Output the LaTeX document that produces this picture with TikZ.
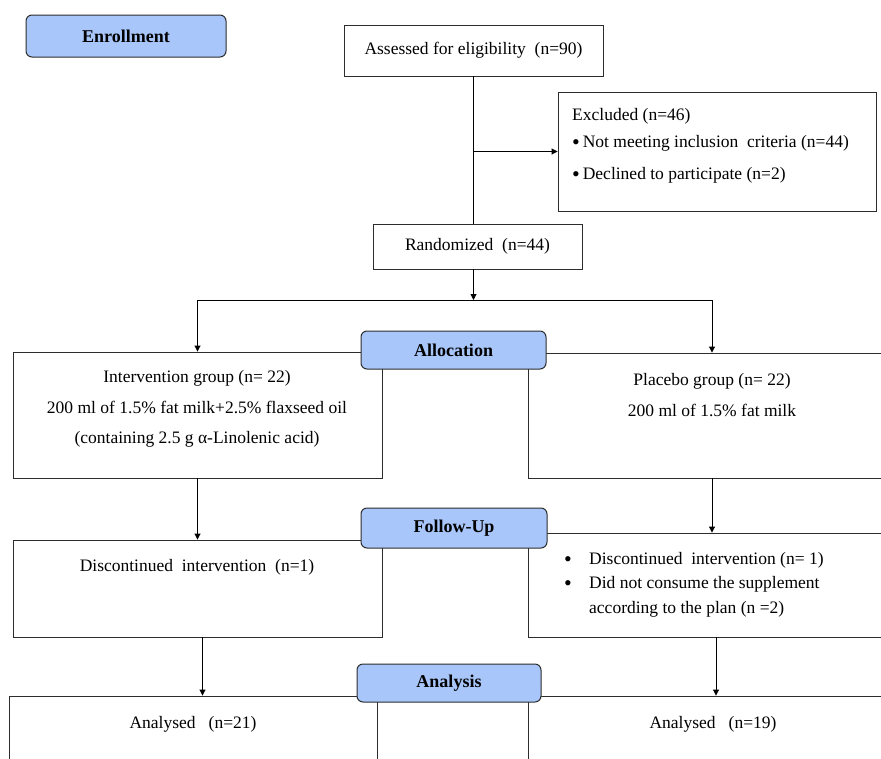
\documentclass[tikz,border=0pt]{standalone}
\usepackage{fontspec}
\setmainfont{Liberation Serif}
\usetikzlibrary{arrows.meta}
\definecolor{labelblue}{RGB}{168,198,250}
\definecolor{edgegrey}{RGB}{45,45,45}
\newcommand{\bigbul}{{\fontsize{22}{22}\selectfont\raisebox{-2.8pt}{\textbullet}}}
\begin{document}
\begin{tikzpicture}[x=1pt,y=-1pt,
  box/.style={draw=edgegrey, line width=0.9pt, fill=white, inner sep=0pt},
  stage/.style={draw=edgegrey, line width=1pt, fill=labelblue, rounded corners=6pt, inner sep=0pt, font=\fontsize{18}{21}\selectfont\bfseries},
  txt/.style={inner sep=0pt, font=\fontsize{17.5}{21}\selectfont},
  conn/.style={line width=0.9pt, draw=black},
  arr/.style={conn, -{Triangle[length=6pt,width=6pt]}}]
\path[use as bounding box, clip] (0,0) rectangle (881,758);
\fill[white] (0,0) rectangle (881,758);

% boxes
\node[box, minimum width=259pt, minimum height=51pt, txt] (assess) at (473.5,50.5) {Assessed for eligibility\ \ (n=90)};
\node[box, minimum width=318pt, minimum height=119pt] (excl) at (717,151.5) {};
\node[box, minimum width=209pt, minimum height=45pt, txt] (rand) at (477.5,246.5) {Randomized\ \ (n=44)};
\node[box, minimum width=369pt, minimum height=126pt] (interv) at (197.5,415) {};
\node[box, minimum width=368pt, minimum height=125pt] (placebo) at (712,415.5) {};
\node[box, minimum width=369pt, minimum height=97pt] (disc) at (197.5,588.5) {};
\node[box, minimum width=368pt, minimum height=104pt] (pfollow) at (712,585) {};
\node[box, minimum width=368pt, minimum height=104pt] (anL) at (193,748) {};
\node[box, minimum width=368pt, minimum height=104pt] (anR) at (712,748) {};

% texts
\node[txt, anchor=base west] (exT1) at (572,120) {Excluded (n=46)};
\node[txt, anchor=base west] (exT2) at (572,147) {\bigbul\,Not meeting inclusion\ \ criteria (n=44)};
\node[txt, anchor=base west] (exT3) at (572,179) {\bigbul\,Declined to participate (n=2)};
\node[txt, anchor=base] (ivT1) at (197,382) {Intervention group (n= 22)};
\node[txt, anchor=base] (ivT2) at (197,413) {200 ml of 1.5\% fat milk+2.5\% flaxseed oil};
\node[txt, anchor=base] (ivT3) at (197,443) {(containing 2.5 g α-Linolenic acid)};
\node[txt, anchor=base] (plT1) at (712,385) {Placebo group (n= 22)};
\node[txt, anchor=base] (plT2) at (712,416) {200 ml of 1.5\% fat milk};
\node[txt, anchor=base] (dcT) at (197,571) {Discontinued\ \ intervention\ \ (n=1)};
\node[txt, anchor=base] (pfB1) at (568,564) {\bigbul};
\node[txt, anchor=base] (pfB2) at (568,588) {\bigbul};
\node[txt, anchor=base west] (pfT1) at (589,564) {Discontinued\ \ intervention (n= 1)};
\node[txt, anchor=base west] (pfT2) at (589,588) {Did not consume the supplement};
\node[txt, anchor=base west] (pfT3) at (589,613) {according to the plan (n =2)};
\node[txt, anchor=base] (anLT) at (193,728) {Analysed\ \ \ (n=21)};
\node[txt, anchor=base] (anRT) at (713,728) {Analysed\ \ \ (n=19)};

% connectors
\coordinate (split) at (473.5,300);
\draw[conn] (assess.south) -- (assess.south |- rand.north);
\draw[arr] (assess.south |- excl.west) -- (excl.west);
\draw[arr] (assess.south |- rand.south) -- (split);
\draw[conn] (split -| interv.north) -- (split -| placebo.north);
\draw[arr] (split -| interv.north) -- (interv.north);
\draw[arr] (split -| placebo.north) -- (placebo.north);
\draw[arr] (interv.south) -- (disc.north);
\draw[arr] (placebo.south) -- (pfollow.north);
\draw[arr] ([xshift=5pt]disc.south) -- ([xshift=5pt]disc.south |- anL.north);
\draw[arr] ([xshift=4pt]pfollow.south) -- ([xshift=4pt]pfollow.south |- anR.north);

% stage labels
\node[stage, minimum width=200pt, minimum height=42pt] (enroll) at (126,36) {Enrollment};
\node[stage, minimum width=185pt, minimum height=38pt] (alloc) at (453.5,350) {Allocation};
\node[stage, minimum width=186pt, minimum height=40pt] (follow) at (454,528) {Follow-Up};
\node[stage, minimum width=184pt, minimum height=38pt] (analysis) at (449,683) {Analysis};
\end{tikzpicture}
\end{document}
